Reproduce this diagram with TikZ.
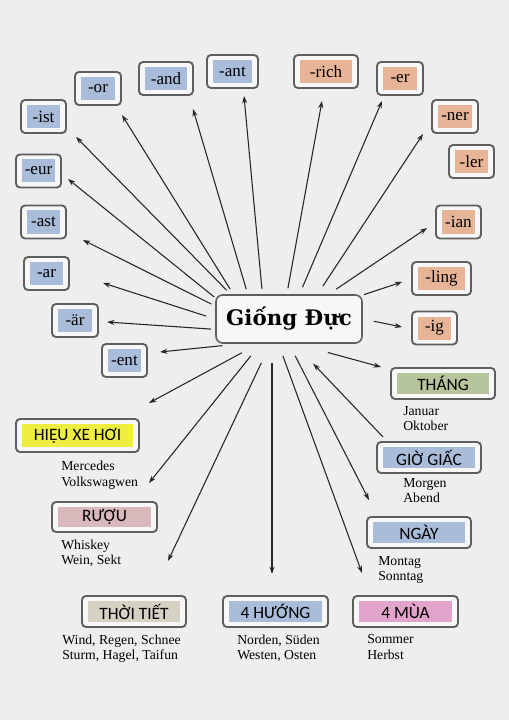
\documentclass[tikz,border=0pt]{standalone}
\usepackage{fontspec}
\setmainfont{Liberation Serif}
\newfontfamily\catfont{Carlito}
\newfontfamily\headfont{DejaVu Serif}
\usepackage{xcolor}
\usetikzlibrary{arrows.meta}

\definecolor{bgcol}{HTML}{EEEEEE}
\definecolor{boxfill}{HTML}{F7F7F7}
\definecolor{boxline}{HTML}{5E5E5E}
\definecolor{sufblue}{HTML}{A9BCDA}
\definecolor{sufrose}{HTML}{E8B498}
\definecolor{thanggreen}{HTML}{B6C49C}
\definecolor{hieuyellow}{HTML}{EEEE40}
\definecolor{ruoupink}{HTML}{D8B8BA}
\definecolor{thoigray}{HTML}{D5D2C3}
\definecolor{muapink}{HTML}{E2A4CB}

\tikzset{
  sfx/.style={draw=boxline, line width=1.4pt, rounded corners=3pt, fill=boxfill,
    minimum width=33.75pt, minimum height=24.75pt, inner sep=0pt,
    font=\rmfamily\fontsize{12.8}{14}\selectfont,
    path picture={\fill[#1, sharp corners]
      ([xshift=4.5pt,yshift=3.75pt]path picture bounding box.south west) rectangle
      ([xshift=-4.5pt,yshift=-3.75pt]path picture bounding box.north east);}},
  cat/.style={sfx=#1, minimum width=78pt, minimum height=23.25pt,
    font=\catfont\fontsize{13}{14}\selectfont},
  words/.style={anchor=north west, inner sep=0pt, align=left,
    font=\rmfamily\fontsize{10.3}{11.5}\selectfont},
  head/.style={draw=boxline, line width=1.2pt, rounded corners=5pt, fill=boxfill,
    minimum width=109.5pt, minimum height=36pt,
    font=\headfont\bfseries\fontsize{16}{18}\selectfont},
  arr/.style={-{Stealth[length=5.5pt,width=3.8pt]}, line width=0.8pt, black!85}
}

\begin{document}
\begin{tikzpicture}[x=0.75pt, y=-0.75pt]
  % Background
  \fill[bgcol] (0,0) rectangle (509,720);
  \useasboundingbox (0,0) rectangle (509,720);

  % Central node
  \node[head] (gd) at (289,319) {Giống Đực};

  % Suffix boxes (blue)
  \node[sfx=sufblue] (ist) at (43.5,116.5) {-ist};
  \node[sfx=sufblue, minimum width=34.5pt] (or) at (98,88.5) {-or};
  \node[sfx=sufblue, minimum width=40.5pt] (and) at (166,78.5) {-and};
  \node[sfx=sufblue, minimum width=38.25pt] (ant) at (232.5,71.5) {-ant};
  \node[sfx=sufblue] (eur) at (38.5,171) {-eur};
  \node[sfx=sufblue] (ast) at (43.5,222) {-ast};
  \node[sfx=sufblue] (ar) at (46.5,273.5) {-ar};
  \node[sfx=sufblue, minimum width=34.5pt] (aer) at (75,320.5) {-är};
  \node[sfx=sufblue] (ent) at (124.5,360.5) {-ent};

  % Suffix boxes (orange)
  \node[sfx=sufrose, minimum width=48pt] (rich) at (326,71.5) {-rich};
  \node[sfx=sufrose, minimum width=34.5pt] (er) at (400,78.5) {-er};
  \node[sfx=sufrose, minimum width=34.5pt] (ner) at (455,116.5) {-ner};
  \node[sfx=sufrose] (ler) at (471.5,161.5) {-ler};
  \node[sfx=sufrose] (ian) at (458.5,222) {-ian};
  \node[sfx=sufrose, minimum width=44.25pt] (ling) at (441.5,278.5) {-ling};
  \node[sfx=sufrose] (ig) at (434.5,328) {-ig};

  % Word groups
  \node[cat=thanggreen] (thang) at (443,383.5) {THÁNG};
  \node[cat=sufblue] (gio) at (429,457.5) {GIỜ GIẤC};
  \node[cat=sufblue] (ngay) at (419,532.5) {NGÀY};
  \node[cat=hieuyellow, minimum width=92.25pt, minimum height=24.75pt] (hieu) at (77.5,435.5) {HIỆU XE HƠI};
  \node[cat=ruoupink, minimum width=78.75pt, minimum height=22.5pt] (ruou) at (104.5,517) {RƯỢU};
  \node[cat=thoigray] (thoi) at (134,611.5) {THỜI TIẾT};
  \node[cat=sufblue, minimum width=78.75pt] (huong) at (275.5,611.5) {4 HƯỚNG};
  \node[cat=muapink, minimum width=78.75pt] (mua) at (405.5,611.5) {4 MÙA};

  % Examples under the groups
  \node[words] (w-thang) at (403,406) {Januar\\Oktober};
  \node[words] (w-gio) at (403,478) {Morgen\\Abend};
  \node[words] (w-ngay) at (378,556) {Montag\\Sonntag};
  \node[words] (w-hieu) at (61,461) {Mercedes\\Volkswagwen};
  \node[words] (w-ruou) at (61,539.5) {Whiskey\\Wein, Sekt};
  \node[words] (w-thoi) at (62,634.5) {Wind, Regen, Schnee\\Sturm, Hagel, Taifun};
  \node[words] (w-huong) at (237,634.5) {Norden, Süden\\Westen, Osten};
  \node[words] (w-mua) at (367,634.5) {Sommer\\Herbst};

  % Arrow tips
  \coordinate (t-ist) at (76,137);
  \coordinate (t-or) at (122,115);
  \coordinate (t-and) at (193,109);
  \coordinate (t-ant) at (244,96);
  \coordinate (t-eur) at (68,179);
  \coordinate (t-ast) at (83,240);
  \coordinate (t-ar) at (103,283);
  \coordinate (t-aer) at (107,322);
  \coordinate (t-ent) at (160,352);
  \coordinate (t-rich) at (322,101);
  \coordinate (t-er) at (382,101);
  \coordinate (t-ner) at (423,134);
  \coordinate (t-ian) at (427,228);
  \coordinate (t-ling) at (402,282);
  \coordinate (t-ig) at (402,327);
  \coordinate (t-thang) at (381,367);
  \coordinate (t-hieu) at (149,403);
  \coordinate (t-ruou) at (149,483);
  \coordinate (t-thoi) at (168,561);
  \coordinate (t-huong) at (272,574);
  \coordinate (t-mua) at (362,573);
  \coordinate (t-ngay) at (369,500);
  \coordinate (c-gio) at (383,437);

  % Arrows out of the centre
  \draw[arr, shorten <=4.2pt] (gd.157) -- (t-ist);
  \draw[arr, shorten <=4.4pt] (gd.156) -- (t-or);
  \draw[arr, shorten <=3.9pt] (gd.149) -- (t-and);
  \draw[arr, shorten <=3.8pt] (gd.137) -- (t-ant);
  \draw[arr, shorten <=1pt] (gd.164) -- (t-eur);
  \draw[arr, shorten <=3.3pt] (gd.170) -- (t-ast);
  \draw[arr, shorten <=7pt] (gd.180) -- (t-ar);
  \draw[arr, shorten <=3pt] (gd.188) -- (t-aer);
  \draw[arr, shorten <=13.5pt] (gd.207) -- (t-ent);
  \draw[arr, shorten <=4.5pt] (gd.95) -- (t-rich);
  \draw[arr, shorten <=5.7pt] (gd.67) -- (t-er);
  \draw[arr, shorten <=7.2pt] (gd.41) -- (t-ner);
  \draw[arr, shorten <=6.7pt] (gd.32) -- (t-ian);
  \draw[arr, shorten <=1pt] (gd.18) -- (t-ling);
  \draw[arr, shorten <=8.4pt] (gd.0) -- (t-ig);
  \draw[arr, shorten <=24.7pt] (gd.286) -- (t-thang);
  \draw[arr, shorten <=14.2pt] (gd.219) -- (t-hieu);
  \draw[arr, shorten <=11.6pt] (gd.221) -- (t-ruou);
  \draw[arr, shorten <=15.8pt] (gd.233) -- (t-thoi);
  \draw[arr, shorten <=14.3pt] (gd.south -| t-huong) -- (t-huong);
  \draw[arr, shorten <=9.6pt] (gd.247) -- (t-mua);
  \draw[arr, shorten <=10.1pt] (gd.270) -- (t-ngay);

  % Arrow back into the centre
  \draw[arr, shorten >=20.6pt] (c-gio) -- (gd.282);
\end{tikzpicture}
\end{document}
